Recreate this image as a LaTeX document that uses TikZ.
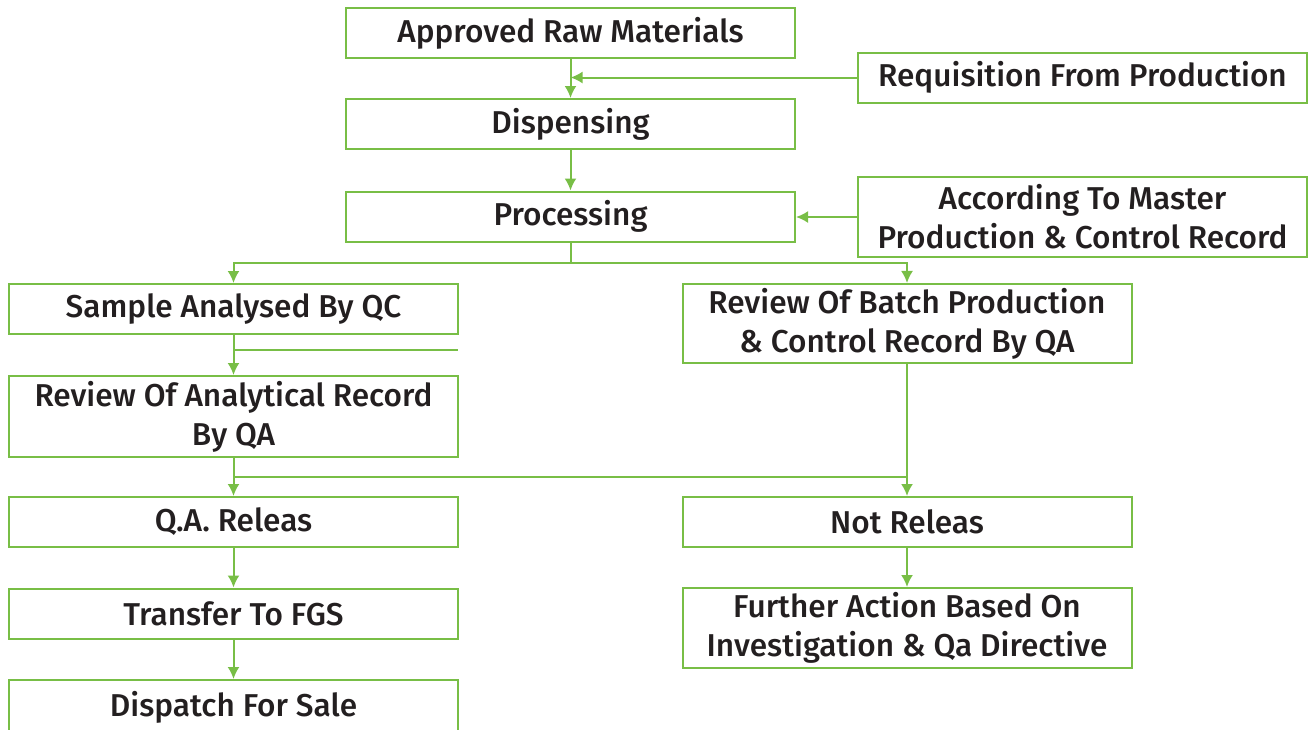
\documentclass[tikz,border=0pt]{standalone}
\usepackage{fontspec}
\setmainfont{Fira Sans}[UprightFont={* Medium}]
\usetikzlibrary{arrows.meta}

\definecolor{flowgreen}{RGB}{120,190,70}
\definecolor{flowtext}{RGB}{35,31,32}

\tikzset{
  box/.style={draw=flowgreen, line width=1pt, minimum width=224.5pt, minimum height=25pt,
    text=flowtext, align=center, font=\fontsize{15.8}{19.5}\selectfont, inner sep=2pt},
  link/.style={draw=flowgreen, line width=1pt, -{Latex[length=6pt,width=6pt]}},
  plain/.style={draw=flowgreen, line width=1pt}
}

\begin{document}
\begin{tikzpicture}[x=0.5pt,y=-0.5pt]
        \useasboundingbox (0,0) rectangle (1309,729); % page size
        \node[box] (raw) at (570.5,33) {Approved Raw Materials};
        \node[box] (req) at (1082.5,77.5) {Requisition From Production};
        \node[box] (disp) at (570.5,124) {Dispensing};
        \node[box] (proc) at (570.5,216.5) {Processing};
        \node[box, minimum height=40pt] (mpcr) at (1082.5,217) {According To Master\\Production \& Control Record};
        \node[box] (qc) at (233.5,309) {Sample Analysed By QC};
        \node[box, minimum height=39.5pt] (bpcr) at (907,323.5) {Review Of Batch Production\\\& Control Record By QA};
        \node[box, minimum height=40.5pt] (anrec) at (233.5,416.5) {Review Of Analytical Record\\By QA};
        \node[box] (rel) at (233.5,522) {Q.A. Releas};
        \node[box] (norel) at (907,522) {Not Releas};
        \node[box] (fgs) at (233.5,613.5) {Transfer To FGS};
        \node[box, minimum height=40pt] (further) at (907,628) {Further Action Based On\\Investigation \& Qa Directive};
        \node[box, minimum height=27pt] (sale) at (233.5,707) {Dispatch For Sale}; % bottom edge runs off the page
        \draw[link] (raw) -- (disp);
        \coordinate (reqend) at (570.5,77.5);
        \draw[link] (req) -- (reqend); % requisition joins the line
        \draw[link] (disp) -- (proc);
        \draw[link] (mpcr.west) -- (proc.east |- mpcr.west);
        \coordinate (split) at (570.5,263);
        \draw[plain] (proc) -- (split);
        \draw[link] (split) -| (qc);
        \draw[link] (split) -| (bpcr);
        \draw[link] (qc) -- (anrec);
        \coordinate (qcstub) at (233.5,350);
        \coordinate (qcstubend) at (458,350);
        \draw[plain] (qcstub) -- (qcstubend); % short side line
        \coordinate (join) at (233.5,477);
        \draw[plain] (join) -- (join -| bpcr);
        \draw[link] (anrec) -- (rel);
        \draw[link] (bpcr) -- (norel);
        \draw[link] (rel) -- (fgs);
        \draw[link] (fgs) -- (sale);
        \draw[link] (norel) -- (further);
\end{tikzpicture}
\end{document}
